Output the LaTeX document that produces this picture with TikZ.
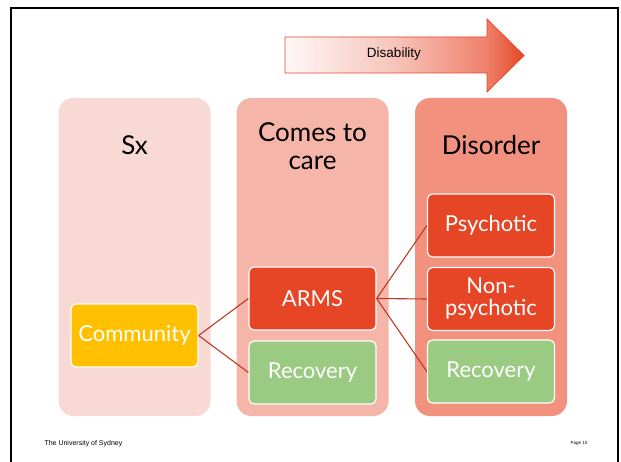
\documentclass[tikz,border=0pt]{standalone}
\usepackage{fontspec}
\setmainfont{Lato}
\newfontfamily\arialfont{Liberation Sans}
\usepackage{xcolor}
\usetikzlibrary{calc}
\definecolor{colsx}{HTML}{F9D9D4}
\definecolor{colcare}{HTML}{F5B5A8}
\definecolor{coldis}{HTML}{F2917E}
\definecolor{boxred}{HTML}{E64626}
\definecolor{boxgreen}{HTML}{9BCA82}
\definecolor{boxyellow}{HTML}{FFC000}
\definecolor{linkred}{HTML}{BE3A22}
\pgfdeclarehorizontalshading{disshade}{100bp}{color(0bp)=(white); color(25bp)=(boxred!4);
    color(48bp)=(boxred!32); color(67bp)=(boxred!68); color(75bp)=(boxred); color(100bp)=(boxred)}

\begin{document}
\begin{tikzpicture}[x=1pt,y=-1pt,
    column/.style={fill=#1,rounded corners=15pt,minimum width=152pt,minimum height=318pt,inner sep=0pt},
    head/.style={align=center,font=\fontsize{26}{28}\selectfont},
    box/.style={fill=#1,draw=white,line width=1.2pt,rounded corners=5pt,minimum width=127pt,minimum height=63pt,
        inner sep=0pt,text=white,align=center,font=\fontsize{22}{22}\selectfont},
    link/.style={draw=linkred,line width=1.1pt}]
            \useasboundingbox (0,0) rectangle (621,462);
            \draw[line width=1.5pt] (11,462) -- (11,8) -- (618,8) -- (618,462);
            % columns
            \node[column=colsx] (sx) at (134.5,257) {};
            \node[column=colcare] (care) at (312.5,257) {};
            \node[column=coldis] (dis) at (491,257) {};
            \node[head] (sxhead) at (134.5,145) {Sx};
            \node[head] (carehead) at (312.5,146) {Comes to\\care};
            \node[head] (dishead) at (491,145) {Disorder};
            % boxes
            \node[box=boxyellow] (comm) at (134.5,335.5) {Community};
            \node[box=boxred] (arms) at (312.5,298.5) {ARMS};
            \node[box=boxgreen] (recA) at (312.5,372.5) {Recovery};
            \node[box=boxred] (psy) at (491,225.5) {Psychotic};
            \node[box=boxred] (nonpsy) at (491,299) {Non-\\psychotic};
            \node[box=boxgreen] (recB) at (491,371.5) {Recovery};
            \draw[link] (comm.east) -- (arms.west);
            \draw[link] (comm.east) -- (recA.west);
            \draw[link] (arms.east) -- (psy.west);
            \draw[link] (arms.east) -- (nonpsy.west);
            \draw[link] (arms.east) -- (recB.west);
            % arrow
            \draw[draw=boxred,line width=0.8pt,shading=disshade]
                (285,37) -- (487,37) -- (487,19) -- (524,55.5) -- (487,92) -- (487,73) -- (285,73) -- cycle;
            \node[font=\arialfont\fontsize{13.5}{14}\selectfont] (disab) at (394,54) {Disability};
            \node[anchor=west,font=\arialfont\fontsize{7}{8}\selectfont] (uni) at (41,444) {The University of Sydney};
            \node[anchor=east,font=\arialfont\fontsize{4.5}{5}\selectfont] (page) at (591,443) {Page 10};
      \end{tikzpicture}
\end{document}
